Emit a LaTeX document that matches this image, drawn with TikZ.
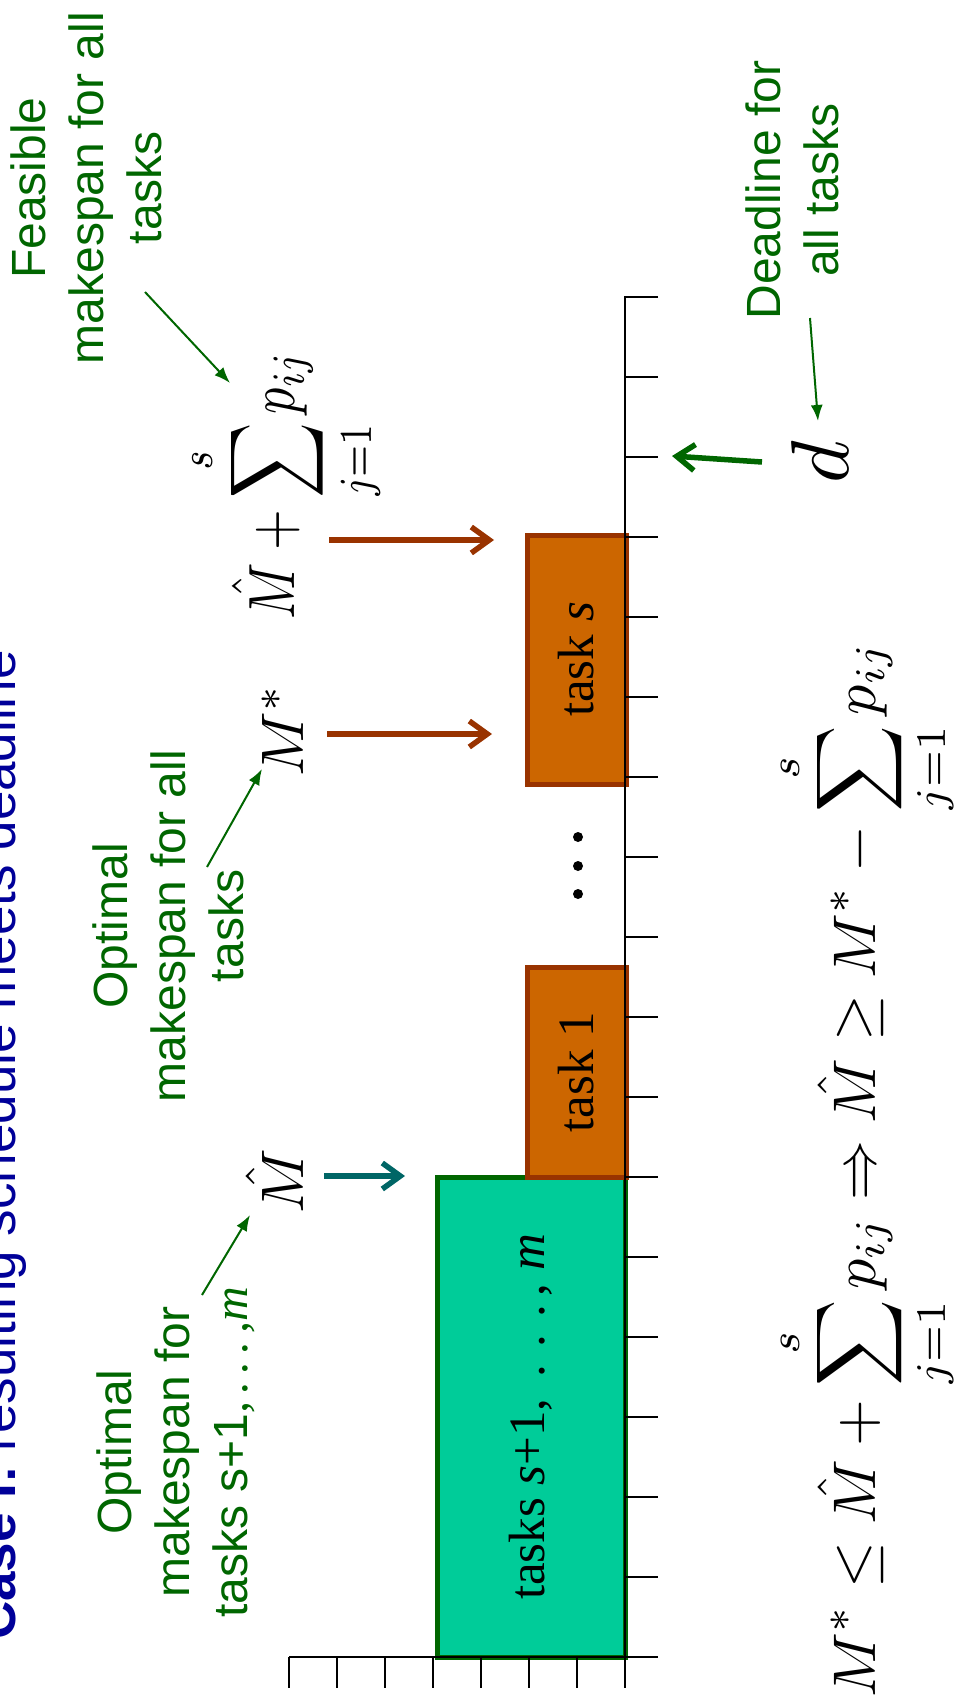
\documentclass[tikz,border=0pt]{standalone}
\usepackage{graphicx}
\usepackage[no-math]{fontspec}
\setmainfont{Liberation Serif}
\newfontfamily\arialf{Liberation Sans}
\usetikzlibrary{arrows.meta}
\definecolor{dkgreen}{HTML}{006600}
\definecolor{brownr}{HTML}{993300}
\definecolor{orangef}{HTML}{CC6600}
\definecolor{greenf}{HTML}{00CC99}
\definecolor{tealc}{HTML}{006666}
\definecolor{titleblue}{HTML}{000099}
\begin{document}
\begin{tikzpicture}[x=1pt,y=-1pt,
 lbl/.style={rotate=90, align=center, text=dkgreen, font=\arialf\fontsize{48}{58}\selectfont, inner sep=0pt},
 mth/.style={rotate=90, inner sep=0pt, anchor=base},
 thinarrow/.style={draw=dkgreen, line width=2pt, -{Latex[length=16pt,width=12pt]}},
 thickarrow/.style={line width=5.5pt, -{Straight Barb[length=18pt,width=26pt,line width=5.5pt]}},
 taskbox/.style={rotate=90, fill=orangef, draw=brownr, line width=5pt, inner sep=0pt, font=\fontsize{51}{60}\selectfont},
 restbox/.style={rotate=90, fill=greenf, draw=dkgreen, line width=5pt, inner sep=0pt, font=\fontsize{51}{60}\selectfont},
 axisline/.style={line width=2.2pt, draw=black},
]
\useasboundingbox (0,0) rectangle (953,1707);

% title
\node[rotate=90, anchor=base west, inner sep=0pt, text=titleblue, font=\arialf\fontsize{53}{60}\selectfont] (title) at (16,1640) {\textbf{Case I:} resulting schedule meets deadline};

% boxes
\node[restbox, minimum width=480pt, minimum height=188pt] (rest) at (531,1417) {tasks \textit{s}+1,\, .\,\,.\,\,.\,, \textit{m}};
\node[taskbox, minimum width=210pt, minimum height=99pt] (task1) at (576.5,1072) {task 1};
\node[taskbox, minimum width=249pt, minimum height=99pt] (tasks) at (576.5,659.5) {task \textit{s}};

% axis
\draw[axisline] (658,297) -- (625,297) -- (625,1688);
\foreach \k in {1,...,17} \draw[axisline] (625,297+80*\k) -- (658,297+80*\k);
\draw[axisline] (289,1657) -- (625,1657);
\foreach \k in {0,...,6} \draw[axisline] (289+48*\k,1657) -- (289+48*\k,1688);

% dots
\fill (578,837) circle (5pt);
\fill (578,866) circle (5pt);
\fill (578,894) circle (5pt);

% math labels
\node[mth] (mhat) at (303,1181) {\scalebox{6}{$\hat{M}$}};
\node[mth] (mstar) at (303,730) {\scalebox{6}{$M^{*}$}};
\node[mth] (msum) at (294,485) {\scalebox{1}[1.25]{\resizebox{268pt}{!}{$\displaystyle \hat{M}+\sum_{j=1}^{s}p_{ij}$}}};
\node[mth] (dd) at (848,462) {\scalebox{8.2}{$d$}};
\node[mth] (ineq) at (875,1170) {\resizebox{1055pt}{!}{$\displaystyle M^{*}\le \hat{M}+\sum_{j=1}^{s}p_{ij}\Rightarrow \hat{M}\ge M^{*}-\sum_{j=1}^{s}p_{ij}$}};

% green labels
\node[lbl] (feas) at (86,188) {Feasible\\makespan for all\\tasks};
\node[lbl] (dead) at (792,190) {Deadline for\\all tasks};
\node[lbl] (optall) at (168,926) {Optimal\\makespan for all\\tasks};
\node[lbl] (opts) at (176,1452) {Optimal\\makespan for\\tasks s+1{\rmfamily\itshape ,\,.\,.\,.\,,m}};

% arrow end points
\coordinate (fa1) at (145,292); \coordinate (fa2) at (230,383);
\coordinate (da1) at (810,318); \coordinate (da2) at (818,421);
\coordinate (oa1) at (207,867); \coordinate (oa2) at (262,769);
\coordinate (sa1) at (202,1295); \coordinate (sa2) at (250,1215);
\coordinate (ms1) at (327,734); \coordinate (ms2) at (492,734);
\coordinate (su1) at (329,540); \coordinate (su2) at (494,540);
\coordinate (mh1) at (324,1176); \coordinate (mh2) at (405,1176);
\coordinate (dl1) at (762,462); \coordinate (dl2) at (672,456);

\draw[thinarrow] (fa1) -- (fa2);
\draw[thinarrow] (da1) -- (da2);
\draw[thinarrow] (oa1) -- (oa2);
\draw[thinarrow] (sa1) -- (sa2);
\draw[thickarrow, draw=brownr] (ms1) -- (ms2);
\draw[thickarrow, draw=brownr] (su1) -- (su2);
\draw[thickarrow, draw=tealc] (mh1) -- (mh2);
\draw[thickarrow, draw=dkgreen] (dl1) -- (dl2);
\end{tikzpicture}
\end{document}
